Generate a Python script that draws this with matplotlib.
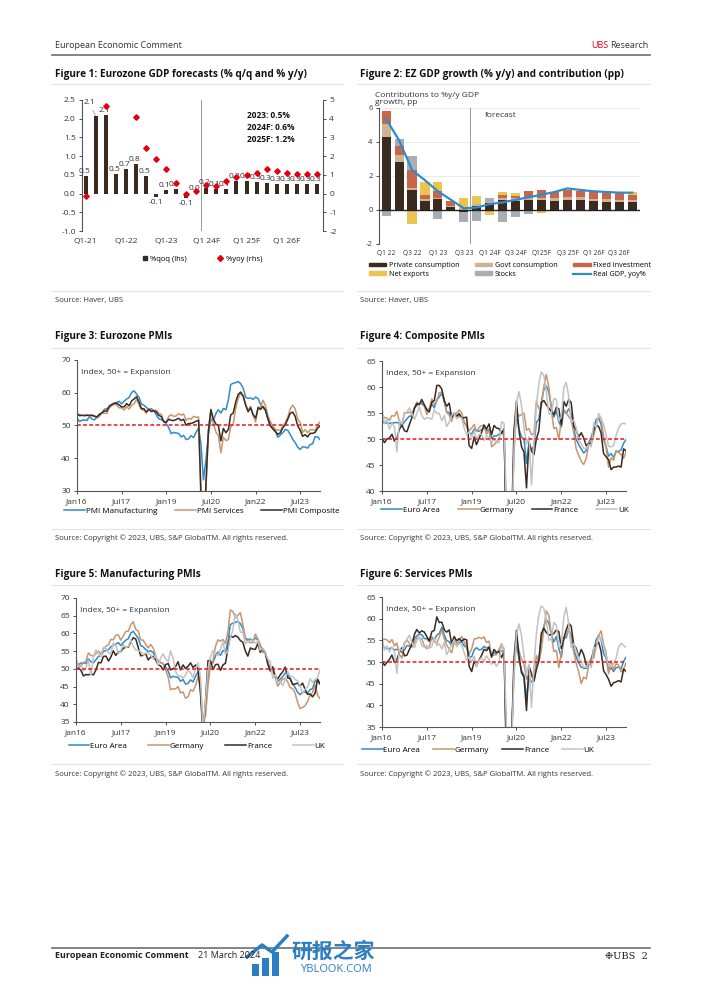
import numpy as np
import pandas as pd
import matplotlib
matplotlib.use("Agg")
import matplotlib.pyplot as plt
from matplotlib.lines import Line2D
from matplotlib.patches import Patch, Rectangle

plt.rcParams['font.family'] = ['Open Sans', 'Noto Sans CJK SC', 'DejaVu Sans']
plt.rcParams['axes.unicode_minus'] = False

W, H = 702, 992

# ---------------- Figure 1 : PIB zone euro (% t/t et % a/a) ----------------
trimestres1 = ["Q1-21", "Q2-21", "Q3-21", "Q4-21", "Q1-22", "Q2-22", "Q3-22", "Q4-22",
               "Q1-23", "Q2-23", "Q3-23", "Q4-23", "Q1 24F", "Q2 24F", "Q3 24F", "Q4 24F",
               "Q1 25F", "Q2 25F", "Q3 25F", "Q4 25F", "Q1 26F", "Q2 26F", "Q3 26F", "Q4 26F"]
qoq = [0.46, 2.08, 2.1, 0.51, 0.65, 0.78, 0.46, -0.09, 0.09, 0.13, -0.12, 0.0,
       0.16, 0.12, 0.13, 0.33, 0.33, 0.3, 0.29, 0.26, 0.26, 0.26, 0.26, 0.26]
yoy = [-0.14, np.nan, 4.68, np.nan, np.nan, 4.1, 2.45, 1.84, 1.29, 0.59, 0.0, 0.14,
       0.45, 0.41, 0.66, 0.86, 0.98, 1.12, 1.3, 1.21, 1.12, 1.07, 1.07, 1.05]
annuels = ["2023: 0.5%", "2024F: 0.6%", "2025F: 1.2%"]

# ---------------- Figure 2 : contributions (pp) ----------------
trimestres2 = ["Q1 22", "Q2 22", "Q3 22", "Q4 22", "Q1 23", "Q2 23", "Q3 23", "Q4 23",
               "Q1 24F", "Q2 24F", "Q3 24F", "Q4 24F", "Q125F", "Q2 25F", "Q3 25F", "Q4 25F",
               "Q1 26F", "Q2 26F", "Q3 26F", "Q4 26F"]
conso_privee = [4.3, 2.85, 1.15, 0.55, 0.65, 0.16, -0.14, 0.25, 0.4, 0.6, 0.55, 0.6,
                0.6, 0.55, 0.6, 0.6, 0.53, 0.5, 0.47, 0.45]
conso_publique = [0.75, 0.4, 0.12, 0.12, 0.05, 0.08, 0.1, 0.1, 0.1, 0.12, 0.14, 0.12,
                  0.13, 0.14, 0.15, 0.15, 0.14, 0.14, 0.14, 0.14]
investissement = [0.8, 0.5, 1.08, 0.2, 0.4, 0.26, 0.0, 0.0, 0.0, 0.16, 0.13, 0.42,
                  0.42, 0.39, 0.43, 0.39, 0.39, 0.38, 0.37, 0.31]
export_nettes = [0.0, 0.0, -0.82, 0.8, 0.55, 0.0, 0.6, 0.47, -0.3, 0.16, 0.18, 0.0,
                 -0.2, 0.0, 0.0, 0.0, 0.0, 0.0, 0.0, 0.14]
stocks = [-0.33, 0.4, 0.83, 0.0, -0.5, 0.0, -0.55, -0.63, 0.23, -0.7, -0.4, -0.25,
          0.0, 0.0, 0.0, 0.0, 0.0, 0.0, 0.0, 0.0]
pib_reel = [5.35, 4.1, 2.35, 1.75, 1.1, 0.6, 0.1, 0.15, 0.35, 0.45, 0.6, 0.75,
            0.9, 1.06, 1.27, 1.18, 1.1, 1.06, 1.02, 1.02]

# ---------------- PMI mensuels, janv. 2016 - mars 2024 ----------------
ea_mfg = [52.3, 51.2, 51.6, 51.7, 51.5, 52.8, 52.0, 51.7, 52.6, 53.5, 53.7, 54.9,
          55.2, 55.4, 56.2, 56.7, 57.0, 57.4, 56.6, 57.4, 58.1, 58.5, 60.1, 60.6,
          59.6, 58.6, 56.6, 56.2, 55.5, 54.9, 55.1, 54.6, 53.2, 52.0, 51.8, 51.4,
          50.5, 49.3, 47.5, 47.9, 47.7, 47.6, 46.5, 47.0, 45.7, 45.9, 46.9, 46.3,
          47.9, 49.2, 44.5, 33.4, 39.4, 47.4, 51.8, 51.7, 53.7, 54.8, 53.8, 55.2,
          54.8, 57.9, 62.5, 62.9, 63.1, 63.4, 62.8, 61.4, 58.6, 58.3, 58.4, 58.0,
          58.7, 58.2, 56.5, 55.5, 54.6, 52.1, 49.8, 49.6, 48.4, 46.4, 47.1, 47.8,
          48.8, 48.5, 47.3, 45.8, 44.8, 43.4, 42.7, 43.5, 43.4, 43.1, 44.2, 44.4,
          46.6, 46.5, 45.7]
ea_srv = [53.6, 53.3, 53.1, 53.1, 53.3, 52.8, 52.9, 52.8, 52.2, 52.8, 53.8, 53.7,
          53.7, 55.5, 56.0, 56.4, 56.3, 55.4, 55.4, 54.7, 55.8, 55.0, 56.2, 56.6,
          58.0, 56.2, 54.9, 54.7, 53.8, 55.2, 54.2, 54.4, 54.7, 53.7, 53.4, 51.2,
          51.2, 52.8, 53.3, 52.8, 52.9, 53.6, 53.2, 53.5, 51.6, 52.2, 51.9, 52.8,
          52.5, 52.6, 26.4, 12.0, 30.5, 48.3, 54.7, 50.5, 48.0, 46.9, 41.7, 46.4,
          45.4, 45.7, 49.6, 50.5, 55.2, 58.3, 59.8, 59.0, 56.4, 54.6, 55.9, 53.1,
          51.1, 55.5, 55.6, 57.7, 56.1, 53.0, 51.2, 49.8, 48.8, 48.6, 48.5, 49.8,
          50.8, 52.7, 55.0, 56.2, 55.1, 52.0, 50.9, 47.9, 48.7, 47.8, 48.7, 48.8,
          48.4, 50.2, 51.1]
ea_comp = [53.6, 53.0, 53.1, 53.0, 53.1, 53.1, 53.2, 52.9, 52.6, 53.3, 53.9, 54.4,
           54.4, 56.0, 56.4, 56.8, 56.8, 56.3, 55.7, 55.7, 56.7, 56.0, 57.5, 58.1,
           58.8, 57.1, 55.2, 55.1, 54.1, 54.9, 54.3, 54.5, 54.1, 53.1, 52.7, 51.1,
           51.0, 51.9, 51.6, 51.5, 51.8, 52.2, 51.5, 51.9, 50.1, 50.6, 50.6, 50.9,
           51.3, 51.6, 29.7, 13.6, 31.9, 48.5, 54.9, 51.9, 50.4, 50.0, 45.3, 49.1,
           47.8, 48.8, 53.2, 53.8, 57.1, 59.5, 60.2, 59.0, 56.2, 54.2, 55.4, 53.3,
           52.3, 55.5, 54.9, 55.8, 54.8, 52.0, 49.9, 48.9, 48.1, 47.3, 47.8, 49.3,
           50.3, 52.0, 53.7, 54.1, 52.8, 49.9, 48.6, 46.7, 47.2, 46.5, 47.6, 47.6,
           47.9, 49.2, 49.9]
de_comp = [54.5, 54.1, 54.0, 53.6, 54.5, 54.4, 55.3, 53.3, 52.8, 55.1, 55.0, 55.2,
           54.8, 56.1, 57.1, 56.7, 57.4, 56.4, 54.7, 55.8, 57.7, 56.6, 57.3, 58.9,
           59.0, 57.6, 55.1, 54.6, 53.4, 54.8, 55.0, 55.6, 55.0, 53.4, 52.3, 51.6,
           52.1, 52.8, 51.4, 52.2, 52.6, 52.6, 50.9, 51.7, 48.5, 48.9, 49.4, 50.2,
           51.2, 50.7, 35.0, 17.4, 32.3, 47.0, 55.3, 54.4, 54.7, 55.0, 51.7, 52.0,
           50.8, 51.1, 57.3, 55.8, 56.2, 60.1, 62.4, 60.0, 55.5, 52.0, 52.2, 49.9,
           53.8, 55.6, 55.1, 54.3, 53.7, 51.3, 48.1, 46.9, 45.7, 45.1, 46.3, 49.0,
           49.9, 50.7, 52.6, 54.2, 53.9, 50.6, 48.5, 44.6, 46.4, 45.9, 47.8, 47.4,
           47.0, 46.3, 47.4]
fr_comp = [50.1, 49.3, 50.0, 50.2, 50.9, 49.6, 50.1, 51.9, 52.7, 51.6, 51.4, 52.8,
           54.1, 55.9, 56.8, 56.6, 57.6, 56.6, 55.6, 55.2, 57.1, 57.4, 60.3, 60.3,
           59.6, 57.3, 56.3, 56.9, 54.2, 55.0, 54.4, 54.9, 54.0, 54.1, 54.2, 48.7,
           48.2, 50.4, 48.9, 50.1, 51.2, 52.7, 51.9, 52.9, 50.8, 52.6, 52.1, 52.0,
           51.1, 52.0, 28.9, 11.1, 32.1, 51.7, 57.3, 51.6, 48.5, 47.5, 40.6, 49.5,
           47.7, 47.0, 50.0, 51.6, 57.0, 57.4, 56.6, 55.9, 55.3, 54.7, 56.1, 55.8,
           52.7, 57.2, 56.3, 57.6, 57.0, 52.5, 51.7, 50.4, 51.2, 50.2, 48.7, 49.1,
           49.1, 51.7, 52.7, 52.4, 51.2, 47.2, 46.6, 46.0, 44.1, 44.6, 44.6, 44.8,
           44.6, 48.1, 47.7]
uk_comp = [55.9, 53.0, 53.6, 51.9, 53.0, 52.4, 47.5, 53.6, 52.9, 54.8, 55.2, 56.0,
           54.9, 53.8, 54.9, 56.2, 54.5, 53.8, 54.1, 54.0, 53.8, 55.6, 54.9, 54.9,
           53.5, 54.5, 52.4, 53.2, 54.5, 55.1, 53.9, 54.2, 54.1, 52.1, 50.8, 51.4,
           50.3, 51.5, 50.0, 50.9, 50.9, 49.7, 50.7, 50.2, 49.3, 50.0, 49.3, 49.3,
           53.3, 53.0, 36.0, 13.8, 30.0, 47.7, 57.0, 59.1, 56.5, 52.1, 49.0, 50.4,
           41.2, 49.6, 56.4, 60.7, 62.9, 62.2, 59.2, 54.8, 54.9, 57.8, 57.6, 53.6,
           54.2, 59.9, 60.9, 58.2, 53.1, 53.7, 52.1, 49.6, 49.1, 48.2, 48.2, 49.0,
           48.5, 53.1, 52.2, 54.9, 54.0, 52.8, 50.8, 48.6, 48.5, 48.7, 50.7, 52.1,
           52.9, 53.0, 52.9]
de_mfg = [52.3, 50.5, 50.7, 51.8, 52.1, 54.5, 53.8, 53.6, 54.3, 55.0, 54.3, 55.6,
          56.4, 56.8, 58.3, 58.2, 59.5, 59.6, 58.1, 59.3, 60.6, 60.6, 62.5, 63.3,
          61.1, 60.6, 58.2, 58.1, 56.9, 55.9, 56.9, 55.9, 53.7, 52.2, 51.8, 51.5,
          49.7, 47.6, 44.1, 44.4, 44.3, 45.0, 43.2, 43.5, 41.7, 42.1, 44.1, 43.7,
          45.3, 48.0, 45.4, 34.5, 36.6, 45.2, 51.0, 52.2, 56.4, 58.2, 57.8, 58.3,
          57.1, 60.7, 66.6, 66.2, 64.4, 65.1, 65.9, 62.6, 58.4, 57.8, 57.4, 57.4,
          59.8, 58.4, 56.9, 54.6, 54.8, 52.0, 49.3, 49.1, 47.8, 45.1, 46.2, 47.1,
          47.3, 46.3, 44.7, 44.5, 43.2, 40.6, 38.8, 39.1, 39.6, 40.8, 42.6, 43.3,
          45.5, 42.5, 41.6]
fr_mfg = [50.0, 50.2, 49.6, 48.0, 48.4, 48.3, 48.6, 48.3, 49.7, 51.8, 51.7, 53.5,
          53.6, 52.2, 53.3, 55.1, 53.8, 54.8, 54.9, 55.8, 56.1, 56.1, 57.7, 58.8,
          58.4, 55.9, 53.7, 53.8, 54.4, 52.5, 53.3, 53.5, 52.5, 51.2, 50.8, 49.7,
          51.2, 51.5, 49.7, 50.0, 50.6, 52.0, 49.7, 51.1, 50.1, 50.7, 51.7, 50.4,
          51.1, 49.8, 43.2, 31.5, 40.6, 52.3, 52.4, 49.8, 51.2, 51.3, 49.6, 51.1,
          51.6, 56.1, 59.3, 58.9, 59.4, 59.0, 58.0, 57.5, 55.0, 53.6, 55.9, 55.6,
          55.5, 57.2, 54.7, 55.7, 54.6, 51.4, 49.5, 50.6, 47.7, 47.2, 48.3, 49.2,
          50.5, 47.4, 47.3, 45.6, 45.7, 46.0, 45.1, 46.0, 44.2, 42.8, 42.9, 42.1,
          43.1, 47.1, 45.8]
uk_mfg = [52.9, 50.8, 51.0, 49.4, 50.4, 52.4, 48.2, 53.4, 55.4, 54.3, 53.4, 56.1,
          55.7, 54.5, 54.2, 57.3, 56.7, 54.3, 55.1, 56.9, 56.0, 56.3, 58.2, 56.3,
          55.3, 55.2, 54.9, 53.9, 54.4, 54.4, 54.0, 52.8, 53.8, 51.1, 53.1, 54.2,
          52.8, 52.0, 55.1, 53.1, 49.4, 48.0, 48.0, 47.4, 48.3, 49.6, 48.9, 47.5,
          50.0, 51.7, 47.8, 32.6, 40.7, 50.1, 53.3, 55.2, 54.1, 53.7, 55.6, 57.5,
          54.1, 55.1, 58.9, 60.9, 65.6, 63.9, 60.4, 60.3, 57.1, 57.8, 58.1, 57.9,
          57.3, 58.0, 55.2, 55.8, 54.6, 52.8, 52.1, 47.3, 48.4, 46.2, 46.5, 45.3,
          47.0, 49.3, 47.9, 47.8, 47.1, 46.5, 45.3, 43.0, 44.3, 44.8, 47.2, 46.2,
          47.0, 47.5, 49.9]
de_srv = [55.0, 55.3, 55.1, 54.5, 55.2, 53.7, 54.4, 51.7, 50.9, 54.2, 55.1, 54.3,
          53.4, 54.4, 55.6, 55.4, 55.4, 53.7, 53.1, 53.5, 55.6, 54.7, 54.3, 55.8,
          57.3, 55.3, 53.9, 53.0, 52.1, 54.5, 54.1, 55.0, 55.9, 54.7, 53.3, 51.8,
          53.0, 55.3, 55.4, 55.7, 55.4, 55.8, 54.5, 54.8, 51.4, 51.6, 51.7, 52.9,
          54.2, 52.5, 31.7, 16.2, 32.6, 47.3, 55.6, 52.5, 50.6, 49.5, 46.0, 47.0,
          46.7, 45.7, 51.5, 49.9, 52.8, 57.5, 61.8, 60.8, 56.2, 52.4, 52.7, 48.7,
          52.2, 55.8, 56.1, 57.6, 55.0, 52.4, 49.7, 47.7, 45.0, 46.5, 46.1, 49.2,
          50.7, 50.9, 53.7, 56.0, 57.2, 54.1, 52.3, 47.3, 50.3, 48.2, 49.6, 49.3,
          47.7, 48.3, 49.8]
fr_srv = [50.3, 49.2, 49.9, 50.6, 51.6, 49.9, 50.5, 52.3, 53.3, 51.4, 51.6, 52.9,
          54.1, 56.4, 57.5, 56.7, 57.2, 56.9, 55.9, 54.9, 57.0, 57.3, 60.4, 59.1,
          59.2, 57.4, 56.9, 57.4, 54.3, 55.9, 54.9, 55.4, 54.8, 55.3, 55.1, 49.0,
          47.8, 50.2, 49.1, 50.5, 51.5, 52.9, 52.6, 53.4, 51.1, 52.9, 52.2, 52.4,
          51.0, 52.5, 27.4, 10.2, 31.1, 50.7, 57.3, 51.5, 47.5, 46.5, 38.8, 49.1,
          47.3, 45.6, 48.2, 50.3, 56.6, 57.8, 56.8, 56.3, 56.2, 56.6, 57.4, 57.0,
          53.1, 55.5, 57.4, 58.9, 58.3, 53.9, 53.2, 51.2, 52.9, 51.7, 49.3, 49.5,
          49.4, 53.1, 53.9, 54.6, 52.5, 48.0, 47.1, 46.0, 44.4, 45.2, 45.4, 45.7,
          45.4, 48.4, 47.8]
uk_srv = [55.6, 52.7, 53.7, 52.3, 53.5, 52.3, 47.4, 52.9, 52.6, 54.5, 55.2, 56.2,
          54.5, 53.3, 55.0, 55.8, 53.8, 53.4, 53.8, 53.2, 53.6, 55.6, 53.8, 54.2,
          53.0, 54.5, 51.7, 52.8, 54.0, 55.1, 53.5, 54.3, 53.9, 52.2, 50.4, 51.2,
          50.1, 51.3, 48.9, 50.4, 51.0, 50.2, 51.4, 50.6, 49.5, 50.0, 49.0, 50.0,
          53.9, 53.2, 34.5, 13.4, 29.0, 47.1, 56.5, 58.8, 56.1, 51.4, 47.6, 49.4,
          39.5, 49.5, 56.3, 61.0, 62.9, 62.4, 59.6, 55.0, 55.4, 59.1, 58.5, 53.6,
          54.1, 60.5, 62.6, 58.9, 53.4, 54.3, 52.6, 50.9, 50.0, 48.8, 48.8, 49.9,
          48.7, 53.5, 52.9, 55.9, 55.2, 53.7, 51.5, 49.5, 49.3, 49.5, 50.9, 53.4,
          54.3, 53.8, 53.4]

mois = pd.date_range("2016-01-01", periods=len(ea_mfg), freq="MS")
dates_ticks = ["2016-01-01", "2017-07-01", "2019-01-01", "2020-07-01", "2022-01-01", "2023-07-01"]
labels_ticks = ["Jan16", "Jul17", "Jan19", "Jul20", "Jan22", "Jul23"]

# ---------------- couleurs ----------------
brun = "#3b2a1f"
beige = "#cdb594"
saumon = "#c8654a"
jaune = "#ebc54f"
gris_stock = "#a9adb4"
bleu = "#2f8bcb"
tan = "#c8966e"
gris_uk = "#c2c2c2"
rouge = "#e2000f"
texte = "#333333"

fig = plt.figure(figsize=(W / 100, H / 100), dpi=100)


def boite(g, h, d, b):
    return [g / W, 1 - b / H, (d - g) / W, (b - h) / H]


def fx(x):
    return x / W


def fy(y):
    return 1 - y / H


def ligne(x0, x1, y, couleur="#e3e3e3", lw=0.8):
    fig.add_artist(Line2D([fx(x0), fx(x1)], [fy(y), fy(y)], color=couleur, lw=lw))


# ---------------- en-tete / pied de page ----------------
fig.text(fx(55), fy(45), "European Economic Comment", fontsize=6.5, color=texte, va="center")
fig.text(fx(591), fy(45), "UBS", fontsize=6.5, color=rouge, va="center", ha="left")
fig.text(fx(648), fy(45), "Research", fontsize=6.5, color=texte, va="center", ha="right")
ligne(52, 650, 55, couleur="#6f6f6f", lw=1.2)

ligne(52, 650, 948, couleur="#6f6f6f", lw=1.2)
fig.text(fx(55), fy(956), "European Economic Comment", fontsize=6.5, fontweight="bold", color="#222222", va="center")
fig.text(fx(198), fy(956), "21 March 2024", fontsize=6.5, color="#222222", va="center")
fig.text(fx(648), fy(956), "\u2749UBS  2", fontsize=7, color="#222222", va="center", ha="right",
         family=["DejaVu Serif", "DejaVu Sans"])

# filigrane
fig.text(fx(292), fy(952), "研报之家", fontsize=15, color="#2a7fc4", va="center", fontweight="bold")
fig.text(fx(300), fy(970), "YBLOOK.COM", fontsize=8, color="#2a7fc4", va="center")
for xb, hb in [(252, 12), (262, 18), (272, 24)]:
    fig.add_artist(Rectangle((fx(xb), fy(976)), 7 / W, hb / H, color="#2a7fc4", lw=0))
fig.add_artist(Line2D([fx(247), fx(262), fx(272), fx(287)], [fy(957), fy(945), fy(952), fy(936)],
                      color="#2a7fc4", lw=2.5))

# titres, separateurs, sources
titres = [(55, 75, "Figure 1: Eurozone GDP forecasts (% q/q and % y/y)"),
          (360, 75, "Figure 2: EZ GDP growth (% y/y) and contribution (pp)"),
          (55, 337, "Figure 3: Eurozone PMIs"),
          (360, 337, "Figure 4: Composite PMIs"),
          (55, 575, "Figure 5: Manufacturing PMIs"),
          (360, 575, "Figure 6: Services PMIs")]
for x0, y0, t in titres:
    fig.text(fx(x0), fy(y0), t, fontsize=7.2, fontweight="bold", color="#111111", va="center")

for y0 in [84, 348, 585]:
    ligne(52, 343, y0)
    ligne(357, 650, y0)
for y0 in [291, 529, 764]:
    ligne(52, 343, y0)
    ligne(357, 650, y0)

source_pmi = "Source: Copyright \u00a9 2023, UBS, S&P GlobalTM. All rights reserved."
fig.text(fx(55), fy(300), "Source: Haver, UBS", fontsize=5.5, color=texte, va="center")
fig.text(fx(360), fy(300), "Source: Haver, UBS", fontsize=5.5, color=texte, va="center")
for y0 in [538, 774]:
    fig.text(fx(55), fy(y0), source_pmi, fontsize=5.5, color=texte, va="center")
    fig.text(fx(360), fy(y0), source_pmi, fontsize=5.5, color=texte, va="center")


def style_axe(ax, gauche=True, bas=True):
    for cote in ["top", "right", "left", "bottom"]:
        ax.spines[cote].set_visible(False)
    if gauche:
        ax.spines["left"].set_visible(True)
        ax.spines["left"].set_color("#555555")
        ax.spines["left"].set_linewidth(0.8)
    if bas:
        ax.spines["bottom"].set_visible(True)
        ax.spines["bottom"].set_color("#555555")
        ax.spines["bottom"].set_linewidth(0.8)
    ax.tick_params(labelsize=6, colors=texte, length=2.5, width=0.6, pad=2)
    ax.set_facecolor("none")


# ---------------- Figure 1 ----------------
ax1 = fig.add_axes(boite(82, 100, 323, 231))
x1 = np.arange(len(trimestres1))
ax1.bar(x1, qoq, width=0.4, color=brun, zorder=2)
ax1.set_xlim(-0.35, len(x1) - 0.4)
ax1.set_ylim(-1.0, 2.5)
ax1.set_yticks(np.arange(-1.0, 2.51, 0.5))
ax1.set_yticklabels([f"{v:.1f}" for v in np.arange(-1.0, 2.51, 0.5)])
ax1.set_xticks(x1[::4])
ax1.set_xticklabels(trimestres1[::4])
style_axe(ax1, gauche=True, bas=False)
ax1.tick_params(axis="x", length=0, pad=5)
ax1.axvline(11.5, color="#9a9a9a", lw=0.7, zorder=1)

for i, v in enumerate(qoq):
    lab = f"{v:.1f}"
    if i == 1:
        ax1.annotate(lab, xy=(i, v), xytext=(i - 0.65, 2.42), fontsize=6, color=texte,
                     ha="center", va="center",
                     arrowprops=dict(arrowstyle="-", color="#888888", lw=0.5, shrinkA=1, shrinkB=0))
    elif v >= 0:
        ax1.text(i - 0.15, v + 0.03, lab, fontsize=6, color=texte, ha="center", va="bottom")
    else:
        ax1.text(i, v - 0.06, lab, fontsize=6, color=texte, ha="center", va="top")

ax1r = ax1.twinx()
ax1r.plot(x1, yoy, ls="none", marker="D", ms=2.8, color=rouge, zorder=3)
ax1r.set_ylim(-2, 5)
ax1r.set_yticks(range(-2, 6))
for cote in ["top", "left", "bottom"]:
    ax1r.spines[cote].set_visible(False)
ax1r.spines["right"].set_color("#555555")
ax1r.spines["right"].set_linewidth(0.8)
ax1r.tick_params(labelsize=6, colors=texte, length=2.5, width=0.6, pad=2)

for k, t in enumerate(annuels):
    ax1.text(0.685, 0.885 - k * 0.092, t, transform=ax1.transAxes, fontsize=6,
             fontweight="bold", color="#111111", va="center")

poignees1 = [Line2D([], [], ls="none", marker="s", ms=3.5, color=brun),
             Line2D([], [], ls="none", marker="D", ms=3.0, color=rouge)]
fig.legend(poignees1, ["%qoq (lhs)", "%yoy (rhs)"], loc="center", bbox_to_anchor=(fx(202), fy(259)),
           ncol=2, frameon=False, fontsize=5.5, handlelength=0.8, handletextpad=0.3, columnspacing=4)

# ---------------- Figure 2 ----------------
ax2 = fig.add_axes(boite(379, 108, 640, 244))
x2 = np.arange(len(trimestres2))
composantes = [conso_privee, conso_publique, investissement, export_nettes, stocks]
couleurs2 = [brun, beige, saumon, jaune, gris_stock]
noms2 = ["Private consumption", "Govt consumption", "Fixed investment", "Net exports", "Stocks"]
haut = np.zeros(len(x2))
bas = np.zeros(len(x2))
for serie, c in zip(composantes, couleurs2):
    s = np.asarray(serie, dtype=float)
    depart = np.where(s >= 0, haut, bas)
    ax2.bar(x2, s, bottom=depart, width=0.7, color=c, zorder=2)
    haut = haut + np.clip(s, 0, None)
    bas = bas + np.clip(s, None, 0)
ax2.plot(x2, pib_reel, color=bleu, lw=1.6, zorder=4)
ax2.axhline(0, color="#222222", lw=1.0, zorder=3)
for g in [2, 4, 6]:
    ax2.axhline(g, color="#e8e8e8", lw=0.6, zorder=0)
ax2.axvline(6.5, color="#9a9a9a", lw=0.7, zorder=1)
ax2.set_xlim(-0.55, len(x2) - 0.4)
ax2.set_ylim(-2, 6)
ax2.set_yticks([-2, 0, 2, 4, 6])
ax2.set_xticks(x2[::2])
ax2.set_xticklabels(trimestres2[::2])
style_axe(ax2, gauche=True, bas=False)
ax2.tick_params(axis="x", length=0, pad=4, labelsize=4.8)
ax2.tick_params(axis="y", labelsize=5.5)
ax2.text(7.6, 5.55, "forecast", fontsize=6, color=texte, va="center")
ax2.text(-0.015, 1.12, "Contributions to %y/y GDP\ngrowth, pp", transform=ax2.transAxes,
         fontsize=6, color=texte, va="top", ha="left", linespacing=1.05)

poignees2 = [Patch(color=c) for c in couleurs2] + [Line2D([], [], color=bleu, lw=1.6)]
noms_leg2 = noms2 + ["Real GDP, yoy%"]
ordre = [0, 3, 1, 4, 2, 5]
fig.legend([poignees2[k] for k in ordre], [noms_leg2[k] for k in ordre], loc="center",
           bbox_to_anchor=(fx(510), fy(270)), ncol=3, frameon=False, fontsize=5.2,
           handlelength=2.4, handleheight=0.45, handletextpad=0.3, columnspacing=2.2,
           labelspacing=0.25)


# ---------------- PMI ----------------
def pmi(rect, series, couleurs, noms, ylim, pas, centre_leg, y_leg, espacement):
    ax = fig.add_axes(boite(*rect))
    for s, c, n in zip(series, couleurs, noms):
        ax.plot(mois, s, color=c, lw=1.1, label=n)
    ax.axhline(50, color="#e8141e", ls=(0, (2.5, 1.5)), lw=1.1)
    ax.set_xlim(mois[0], mois[-1])
    ax.set_ylim(*ylim)
    ax.set_yticks(np.arange(ylim[0], ylim[1] + 0.1, pas))
    ax.set_xticks(pd.to_datetime(dates_ticks))
    ax.set_xticklabels(labels_ticks)
    style_axe(ax)
    ax.tick_params(axis="x", pad=3)
    ax.text(0.015, 0.93, "Index, 50+ = Expansion", transform=ax.transAxes, fontsize=6,
            color=texte, va="top")
    fig.legend(ax.get_lines()[:len(series)], noms, loc="center",
               bbox_to_anchor=(fx(centre_leg), fy(y_leg)), ncol=len(series), frameon=False,
               fontsize=5.8, handlelength=2.6, handletextpad=0.1, columnspacing=espacement)
    return ax


pmi((77, 360, 320, 491), [ea_mfg, ea_srv, ea_comp], [bleu, tan, brun],
    ["PMI Manufacturing", "PMI Services", "PMI Composite"], (30, 70), 10, 202, 511, 2.2)
pmi((382, 361, 626, 491), [ea_comp, de_comp, fr_comp, uk_comp], [bleu, tan, brun, gris_uk],
    ["Euro Area", "Germany", "France", "UK"], (40, 65), 5, 505, 510, 2.2)
pmi((76, 598, 320, 722), [ea_mfg, de_mfg, fr_mfg, uk_mfg], [bleu, tan, brun, gris_uk],
    ["Euro Area", "Germany", "France", "UK"], (35, 70), 5, 197, 746, 2.6)
pmi((382, 597, 626, 727), [ea_srv, de_srv, fr_srv, uk_srv], [bleu, tan, brun, gris_uk],
    ["Euro Area", "Germany", "France", "UK"], (35, 65), 5, 478, 750, 1.6)

fig.savefig("out.png", dpi=100)
